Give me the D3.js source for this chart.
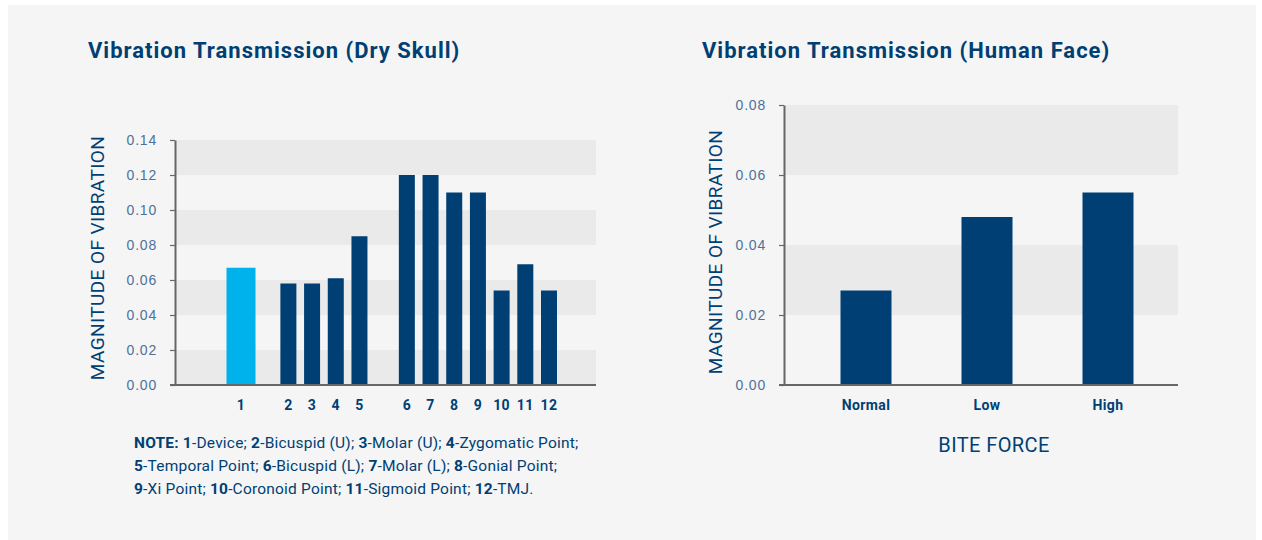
<!doctype html>
<html>
<head>
<meta charset="utf-8">
<script src="https://d3js.org/d3.v7.min.js"></script>
<style>
body { margin: 0; background: #fff; }
svg { display: block; font-family: Roboto, "DejaVu Sans", sans-serif; }
.tick text { fill: #4d719b; font-size: 14px; letter-spacing: 0.8px; }
.xlab { fill: #003f74; font-size: 14px; font-weight: 700; letter-spacing: 0.4px; }
.title { fill: #003f74; font-size: 22px; font-weight: 700; letter-spacing: 1px; }
.axtitle { fill: #003f74; font-size: 19px; letter-spacing: 0.4px; }
.note { fill: #003f74; font-size: 15.5px; letter-spacing: 0.2px; }
</style>
</head>
<body>
<svg width="1262" height="540"></svg>
<script>
// dry skull data
var skullIds = ["1", "2", "3", "4", "5", "6", "7", "8", "9", "10", "11", "12"];
var skullValues = [0.067, 0.058, 0.058, 0.061, 0.085, 0.12, 0.12, 0.11, 0.11, 0.054, 0.069, 0.054];
var skullSlots = ["1", "gapA", "2", "3", "4", "5", "gapB", "6", "7", "8", "9", "10", "11", "12"];
var skullTicks = [0, 0.02, 0.04, 0.06, 0.08, 0.10, 0.12, 0.14];

// human face data
var forceLabels = ["Normal", "Low", "High"];
var faceValues = [0.027, 0.048, 0.055];
var faceTicks = [0, 0.02, 0.04, 0.06, 0.08];

var noteParts = [
  [["NOTE: 1", 1], ["-Device; ", 0], ["2", 1], ["-Bicuspid (U); ", 0], ["3", 1], ["-Molar (U); ", 0], ["4", 1], ["-Zygomatic Point;", 0]],
  [["5", 1], ["-Temporal Point; ", 0], ["6", 1], ["-Bicuspid (L); ", 0], ["7", 1], ["-Molar (L); ", 0], ["8", 1], ["-Gonial Point;", 0]],
  [["9", 1], ["-Xi Point; ", 0], ["10", 1], ["-Coronoid Point; ", 0], ["11", 1], ["-Sigmoid Point; ", 0], ["12", 1], ["-TMJ.", 0]]
];

var navy = "#003f74", cyan = "#00b2eb";

var svg = d3.select("svg");
svg.append("rect").attr("x", 8).attr("y", 5).attr("width", 1248).attr("height", 540).attr("fill", "#f5f5f5");

function frame(g, y, w, ticks) {
  var n = ticks.length - 1;
  // alternating bands, top one shaded
  g.selectAll(".band").data(d3.range(n)).enter().append("rect")
    .attr("x", 0).attr("width", w)
    .attr("y", function(i) { return y(ticks[i + 1]); })
    .attr("height", function(i) { return y(ticks[i]) - y(ticks[i + 1]); })
    .attr("fill", function(i) { return (n - 1 - i) % 2 == 0 ? "#eaeaea" : "none"; });
}

function axes(g, y, w, ticks) {
  var ax = g.append("g")
    .call(d3.axisLeft(y).tickValues(ticks).tickFormat(d3.format(".2f")).tickSize(5).tickPadding(13).tickSizeOuter(0));
  ax.select(".domain").attr("stroke", "#666").attr("stroke-width", 2);
  ax.selectAll(".tick line").attr("stroke", "#666").attr("stroke-width", 1.2);
  g.append("line").attr("x1", -5).attr("x2", w).attr("y1", y(0)).attr("y2", y(0))
    .attr("stroke", "#666").attr("stroke-width", 2);
}

// ---- left chart
var g1 = svg.append("g").attr("transform", "translate(175,140)");
var h1 = 245, w1 = 421;
var y1 = d3.scaleLinear().domain([0, 0.14]).range([h1, 0]);
var x1 = d3.scalePoint().domain(skullSlots).range([66, 374]);
frame(g1, y1, w1, skullTicks);

g1.selectAll(".bar").data(skullIds).enter().append("rect")
  .attr("x", function(d) { return x1(d) - (d == "1" ? 14.5 : 8); })
  .attr("width", function(d) { return d == "1" ? 29 : 16; })
  .attr("y", function(d, i) { return y1(skullValues[i]); })
  .attr("height", function(d, i) { return y1(0) - y1(skullValues[i]) + 1; })
  .attr("fill", function(d) { return d == "1" ? cyan : navy; });

axes(g1, y1, w1, skullTicks);

g1.selectAll(".xlab").data(skullIds).enter().append("text")
  .attr("class", "xlab").attr("text-anchor", "middle")
  .attr("x", function(d) { return x1(d); }).attr("y", h1 + 25)
  .text(function(d) { return d; });

svg.append("text").attr("class", "title").attr("x", 88).attr("y", 58).text("Vibration Transmission (Dry Skull)");
svg.append("text").attr("class", "axtitle").attr("text-anchor", "middle")
  .attr("transform", "translate(104,258) rotate(-90)").text("MAGNITUDE OF VIBRATION");

var note = svg.append("text").attr("class", "note").attr("x", 134).attr("y", 448);
noteParts.forEach(function(line, li) {
  line.forEach(function(p, pi) {
    var t = note.append("tspan").text(p[0]).attr("font-weight", p[1] ? 700 : 400);
    if (pi == 0) t.attr("x", 134).attr("y", 448 + li * 23);
  });
});

// ---- right chart
var g2 = svg.append("g").attr("transform", "translate(784,105)");
var h2 = 280, w2 = 394;
var y2 = d3.scaleLinear().domain([0, 0.08]).range([h2, 0]);
var x2 = d3.scalePoint().domain(forceLabels).range([82, 324]);
frame(g2, y2, w2, faceTicks);

g2.selectAll(".bar").data(forceLabels).enter().append("rect")
  .attr("x", function(d) { return x2(d) - 25.5; }).attr("width", 51)
  .attr("y", function(d, i) { return y2(faceValues[i]); })
  .attr("height", function(d, i) { return y2(0) - y2(faceValues[i]) + 1; })
  .attr("fill", navy);

axes(g2, y2, w2, faceTicks);

g2.selectAll(".xlab").data(forceLabels).enter().append("text")
  .attr("class", "xlab").attr("text-anchor", "middle")
  .attr("x", function(d) { return x2(d); }).attr("y", h2 + 25)
  .text(function(d) { return d; });

g2.append("text").attr("class", "axtitle").attr("text-anchor", "middle")
  .attr("x", 210).attr("y", h2 + 67).style("font-size", "20px").text("BITE FORCE");

svg.append("text").attr("class", "title").attr("x", 702).attr("y", 58).text("Vibration Transmission (Human Face)");
svg.append("text").attr("class", "axtitle").attr("text-anchor", "middle")
  .attr("transform", "translate(722,252) rotate(-90)").text("MAGNITUDE OF VIBRATION");
</script>
</body>
</html>
